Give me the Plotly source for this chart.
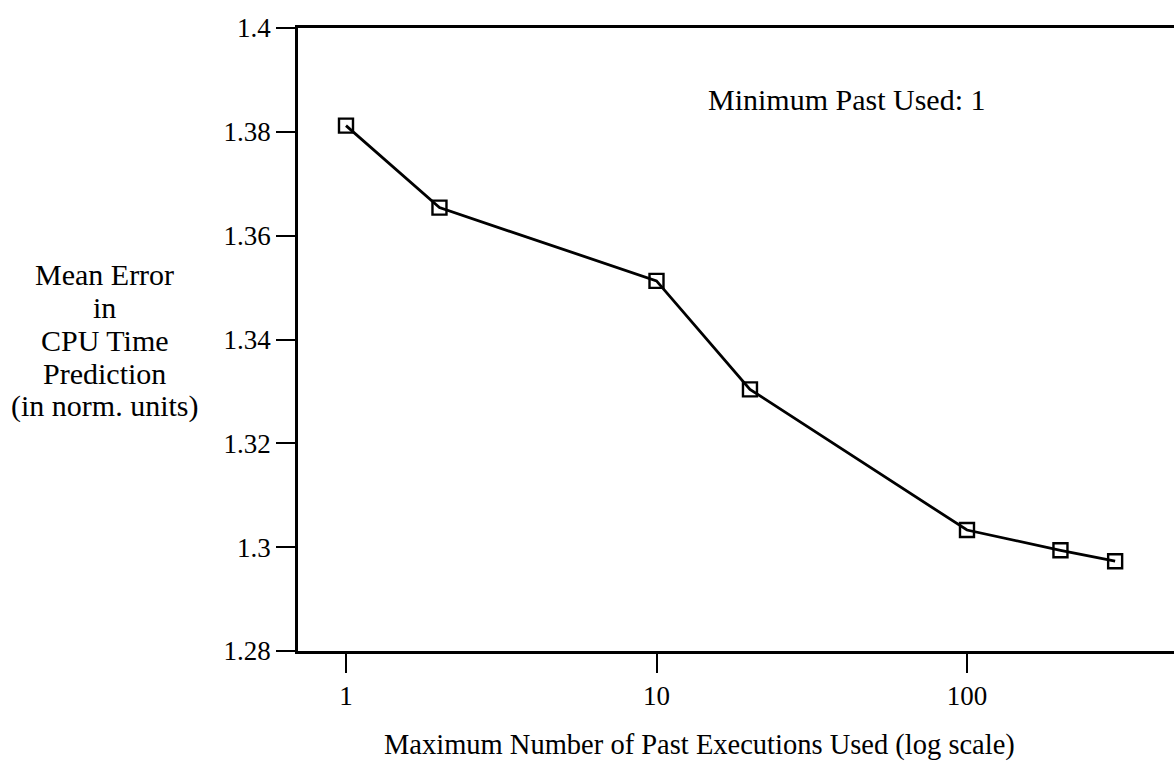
import plotly.graph_objects as go

# Maximum number of past executions used, and mean CPU-time prediction error
max_past = [1, 2, 10, 20, 100, 200, 300]
mean_error = [1.3812, 1.3654, 1.3513, 1.3304, 1.3033, 1.2994, 1.2973]

y_tick_vals = [1.28, 1.30, 1.32, 1.34, 1.36, 1.38, 1.40]
y_tick_text = ["1.28", "1.3", "1.32", "1.34", "1.36", "1.38", "1.4"]
x_tick_vals = [1, 10, 100]
x_tick_text = ["1", "10", "100"]

y_title_lines = ["Mean Error", "in", "CPU Time", "Prediction", "(in norm. units)"]

FONT = "Liberation Serif, Times New Roman, serif"
W, H = 1174, 761
L, T, B = 298, 28, 110
PLOT_H = H - T - B

fig = go.Figure(
    go.Scatter(
        x=max_past,
        y=mean_error,
        mode="lines+markers",
        line=dict(color="black", width=2.8),
        marker=dict(symbol="square-open", size=14, color="black",
                    line=dict(color="black", width=2.4)),
        showlegend=False,
    )
)

# multi-line y-axis title, one annotation per line with fixed 33 px spacing
line_gap = 33
centre_px = 340
annotations = []
n = len(y_title_lines)
for i, txt in enumerate(y_title_lines):
    y_px = centre_px + (i - (n - 1) / 2) * line_gap
    annotations.append(dict(
        text=txt, xref="paper", yref="paper",
        x=(104.5 - L) / (W - L), y=(T + PLOT_H - y_px) / PLOT_H,
        xanchor="center", yanchor="middle", showarrow=False,
        font=dict(family=FONT, size=30),
    ))

annotations += [
    dict(
        text="Maximum Number of Past Executions Used (log scale)",
        xref="paper", yref="paper",
        x=0.4589, y=-0.1509,
        xanchor="center", yanchor="middle",
        showarrow=False,
        font=dict(family=FONT, size=28.5),
    ),
    dict(
        text="Minimum Past Used: 1",
        xref="paper", yref="paper",
        x=0.6267, y=0.886,
        xanchor="center", yanchor="middle",
        showarrow=False,
        font=dict(family=FONT, size=30),
    ),
]

fig.update_layout(
    width=W,
    height=H,
    margin=dict(l=L, r=0, t=T, b=B),
    paper_bgcolor="white",
    plot_bgcolor="white",
    font=dict(family=FONT, size=27, color="black"),
    xaxis=dict(
        type="log",
        range=[-0.1546, 2.6667],
        tickvals=x_tick_vals,
        ticktext=x_tick_text,
        ticks="outside",
        ticklen=19,
        tickwidth=2.2,
        tickcolor="black",
        showline=True,
        linecolor="black",
        linewidth=2.6,
        mirror=True,
        showgrid=False,
        zeroline=False,
        tickfont=dict(family=FONT, size=27),
    ),
    yaxis=dict(
        range=[1.28, 1.40],
        tickvals=y_tick_vals,
        ticktext=y_tick_text,
        ticks="outside",
        ticklen=19,
        tickwidth=2.2,
        tickcolor="black",
        showline=True,
        linecolor="black",
        linewidth=2.6,
        showgrid=False,
        zeroline=False,
        tickfont=dict(family=FONT, size=27),
    ),
    annotations=annotations,
)

fig.write_html("out.html")
